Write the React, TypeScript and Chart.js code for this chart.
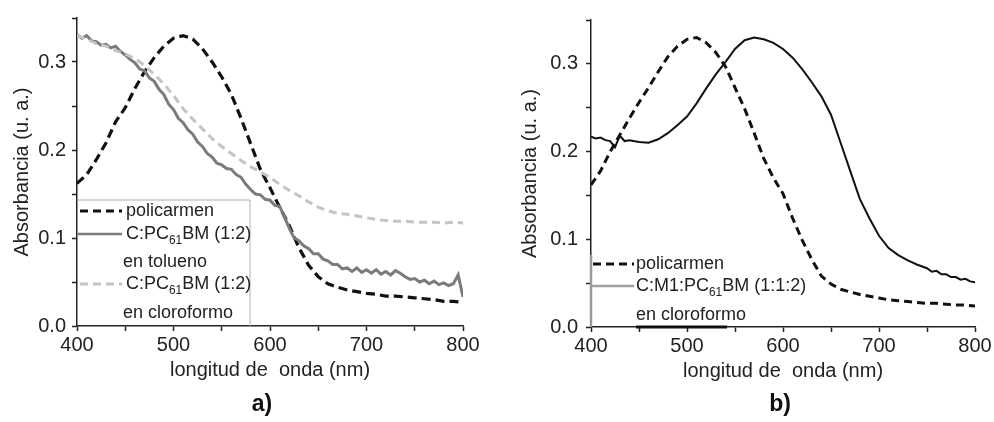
import React, { useEffect, useRef } from 'react';
import { Chart, registerables } from 'chart.js';

Chart.register(...registerables);

const FONT = '"Liberation Sans", Arial, Helvetica, sans-serif';

// ---------------- data ----------------
const wavelengths10 = [
  400, 410, 420, 430, 440, 450, 460, 470, 480, 490, 500, 510, 520, 530, 540, 550, 560, 570, 580, 590,
  600, 610, 620, 630, 640, 650, 660, 670, 680, 690, 700, 710, 720, 730, 740, 750, 760, 770, 780, 790, 800,
];
const wavelengths5 = [
  400, 405, 410, 415, 420, 425, 430, 435, 440, 445, 450, 455, 460, 465, 470, 475, 480, 485, 490, 495,
  500, 505, 510, 515, 520, 525, 530, 535, 540, 545, 550, 555, 560, 565, 570, 575, 580, 585, 590, 595,
  600, 605, 610, 615, 620, 625, 630, 635, 640, 645, 650, 655, 660, 665, 670, 675, 680, 685, 690, 695,
  700, 705, 710, 715, 720, 725, 730, 735, 740, 745, 750, 755, 760, 765, 770, 775, 780, 785, 790, 795, 800,
];

// panel a)
const policarmenA = [
  0.162, 0.172, 0.189, 0.208, 0.232, 0.248, 0.270, 0.289, 0.305, 0.318, 0.327, 0.330, 0.326, 0.315, 0.300,
  0.283, 0.263, 0.236, 0.207, 0.178, 0.157, 0.135, 0.114, 0.089, 0.069, 0.056, 0.048, 0.044, 0.041, 0.039,
  0.037, 0.036, 0.034, 0.034, 0.033, 0.032, 0.031, 0.030, 0.028, 0.028, 0.027,
];
const toluenoA = [
  0.331, 0.327, 0.330, 0.324, 0.323, 0.319, 0.320, 0.316, 0.318, 0.312, 0.308, 0.303, 0.299, 0.292, 0.290,
  0.282, 0.278, 0.269, 0.263, 0.252, 0.246, 0.236, 0.231, 0.223, 0.218, 0.209, 0.204, 0.196, 0.192, 0.185,
  0.183, 0.179, 0.178, 0.172, 0.169, 0.161, 0.155, 0.150, 0.149, 0.144, 0.143, 0.137, 0.136, 0.124, 0.111,
  0.100, 0.097, 0.091, 0.088, 0.082, 0.082, 0.076, 0.074, 0.070, 0.070, 0.065, 0.066, 0.062, 0.066, 0.061,
  0.064, 0.060, 0.064, 0.059, 0.062, 0.058, 0.063, 0.060, 0.056, 0.053, 0.054, 0.050, 0.052, 0.048, 0.051,
  0.047, 0.049, 0.046, 0.048, 0.058, 0.033,
];
const cloroformoA = [
  0.330, 0.326, 0.321, 0.318, 0.313, 0.309, 0.304, 0.296, 0.286, 0.275, 0.262, 0.247, 0.235, 0.224, 0.213,
  0.204, 0.196, 0.188, 0.181, 0.175, 0.169, 0.161, 0.154, 0.148, 0.141, 0.135, 0.131, 0.128, 0.127, 0.125,
  0.123, 0.121, 0.120, 0.119, 0.119, 0.118, 0.118, 0.118, 0.117, 0.118, 0.117,
];

// panel b)
const policarmenB = [
  0.162, 0.178, 0.200, 0.219, 0.238, 0.256, 0.273, 0.291, 0.308, 0.320, 0.328, 0.330, 0.324, 0.313, 0.297,
  0.273, 0.249, 0.221, 0.192, 0.170, 0.152, 0.124, 0.099, 0.077, 0.058, 0.049, 0.043, 0.040, 0.037, 0.035,
  0.033, 0.031, 0.030, 0.029, 0.028, 0.027, 0.027, 0.026, 0.025, 0.025, 0.024,
];
const wavelengthsMezclaB = [
  400, 405, 410, 415, 420, 425, 430, 435, 440, 450, 460, 470, 480, 490, 500, 510, 520, 530, 540, 550,
  560, 570, 580, 590, 600, 610, 620, 630, 640, 650, 660, 670, 680, 690, 700, 710, 720, 730, 740, 750,
  755, 760, 765, 770, 775, 780, 785, 790, 795, 800,
];
const mezclaB = [
  0.217, 0.215, 0.216, 0.213, 0.212, 0.205, 0.218, 0.212, 0.213, 0.211, 0.210, 0.214, 0.221, 0.230, 0.240,
  0.255, 0.272, 0.288, 0.302, 0.317, 0.327, 0.330, 0.328, 0.324, 0.317, 0.307, 0.294, 0.279, 0.263, 0.242,
  0.210, 0.178, 0.146, 0.124, 0.104, 0.090, 0.082, 0.076, 0.071, 0.067, 0.063, 0.064, 0.060, 0.060, 0.057,
  0.057, 0.054, 0.055, 0.052, 0.051,
];

const xTickValues = [400, 500, 600, 700, 800];
const xTickLabels = ['400', '500', '600', '700', '800'];
const yTickValues = [0.0, 0.1, 0.2, 0.3];
const yTickLabels = ['0.0', '0.1', '0.2', '0.3'];

const xTitle = 'longitud de  onda (nm)';
const yTitle = 'Absorbancia (u. a.)';
const panelLabels = ['a)', 'b)'];

const legendLabelsA = ['policarmen', 'C:PC_{61}BM (1:2)', 'en tolueno', 'C:PC_{61}BM (1:2)', 'en cloroformo'];
const legendLabelsB = ['policarmen', 'C:M1:PC_{61}BM (1:1:2)', 'en cloroformo'];

// ---------------- helpers ----------------
const toPoints = (xs: number[], ys: number[]) => xs.map((x, i) => ({ x, y: ys[i] }));

const xLabel = (v: any) => {
  const i = xTickValues.findIndex((t) => Math.abs(t - Number(v)) < 1e-6);
  return i >= 0 ? xTickLabels[i] : '';
};
const yLabel = (v: any) => {
  const i = yTickValues.findIndex((t) => Math.abs(t - Number(v)) < 1e-6);
  return i >= 0 ? yTickLabels[i] : '';
};

function drawRich(ctx: CanvasRenderingContext2D, label: string, x: number, y: number, size: number) {
  const parts = label.split(/(_\{[^}]*\})/).filter((p) => p.length);
  let cx = x;
  for (const p of parts) {
    const sub = p.startsWith('_{');
    const text = sub ? p.slice(2, -1) : p;
    const s = sub ? size * 0.66 : size;
    ctx.font = `${s}px ${FONT}`;
    ctx.fillText(text, cx, sub ? y + size * 0.36 : y);
    cx += ctx.measureText(text).width;
  }
}

function sample(ctx: CanvasRenderingContext2D, x0: number, x1: number, y: number, color: string, width: number, dash: number[]) {
  ctx.save();
  ctx.strokeStyle = color;
  ctx.lineWidth = width;
  ctx.setLineDash(dash);
  ctx.beginPath();
  ctx.moveTo(x0, y);
  ctx.lineTo(x1, y);
  ctx.stroke();
  ctx.restore();
}

const COLORS = {
  black: '#111111',
  tolueno: '#7b7b7b',
  cloroformo: '#c4c4c4',
  legendGray: '#a0a0a0',
  text: '#222222',
};

const decorA = {
  id: 'decorA',
  afterDraw(chart: any) {
    const { ctx, chartArea } = chart;
    const L = chartArea.left;
    const B = chartArea.bottom;
    ctx.save();
    // legend frame (top and right edges)
    ctx.strokeStyle = '#b0b0b0';
    ctx.lineWidth = 1;
    ctx.beginPath();
    ctx.moveTo(L, B - 126);
    ctx.lineTo(L + 173, B - 126);
    ctx.lineTo(L + 173, B);
    ctx.stroke();
    sample(ctx, L + 3, L + 45, B - 115, COLORS.black, 3, [8, 5]);
    sample(ctx, L + 1, L + 45, B - 92, COLORS.tolueno, 2.5, []);
    sample(ctx, L + 3, L + 45, B - 42, COLORS.cloroformo, 3, [8, 5]);
    ctx.fillStyle = COLORS.text;
    ctx.textBaseline = 'middle';
    ctx.textAlign = 'left';
    drawRich(ctx, legendLabelsA[0], L + 49, B - 115, 18);
    drawRich(ctx, legendLabelsA[1], L + 49, B - 92, 18);
    drawRich(ctx, legendLabelsA[2], L + 46, B - 64, 18);
    drawRich(ctx, legendLabelsA[3], L + 49, B - 42, 18);
    drawRich(ctx, legendLabelsA[4], L + 46, B - 13, 18);
    ctx.font = `bold 23px ${FONT}`;
    ctx.textAlign = 'center';
    ctx.fillStyle = '#111';
    ctx.fillText(panelLabels[0], L + 185, chart.height - 17);
    ctx.restore();
  },
};

const decorB = {
  id: 'decorB',
  afterDraw(chart: any) {
    const { ctx, chartArea } = chart;
    const L = chartArea.left;
    const B = chartArea.bottom;
    ctx.save();
    sample(ctx, L, L, B, '#999', 1, []);
    ctx.strokeStyle = '#9a9a9a';
    ctx.lineWidth = 2.5;
    ctx.beginPath();
    ctx.moveTo(L, B - 72);
    ctx.lineTo(L, B);
    ctx.stroke();
    sample(ctx, L + 45, L + 136, B, '#111', 3, []);
    sample(ctx, L + 2, L + 43, B - 63, COLORS.black, 3, [8, 5]);
    sample(ctx, L + 1, L + 43, B - 41, COLORS.legendGray, 2.5, []);
    ctx.fillStyle = COLORS.text;
    ctx.textBaseline = 'middle';
    ctx.textAlign = 'left';
    drawRich(ctx, legendLabelsB[0], L + 45, B - 63, 18);
    drawRich(ctx, legendLabelsB[1], L + 45, B - 41, 18);
    drawRich(ctx, legendLabelsB[2], L + 45, B - 12, 18);
    ctx.font = `bold 23px ${FONT}`;
    ctx.textAlign = 'center';
    ctx.fillStyle = '#111';
    ctx.fillText(panelLabels[1], L + 189, chart.height - 17);
    ctx.restore();
  },
};

function makeScales(yAxisWidth: number, yTitlePad: number, yTickPad: number) {
  const grid = {
    display: true,
    drawOnChartArea: false,
    drawTicks: true,
    tickLength: 5,
    tickColor: '#222',
    tickWidth: 1.5,
  };
  const border = { display: true, color: '#222', width: 1.5 };
  const font = { family: FONT, size: 20 };
  return {
    x: {
      type: 'linear',
      min: 400,
      max: 800,
      afterFit: (s: any) => {
        s.height = 56;
      },
      ticks: { stepSize: 50, autoSkip: false, maxRotation: 0, padding: 2, color: COLORS.text, font, callback: xLabel },
      grid,
      border,
      title: { display: true, text: xTitle, color: COLORS.text, font, padding: { top: 0, bottom: 0 } },
    },
    y: {
      type: 'linear',
      min: 0,
      max: 0.35,
      afterFit: (s: any) => {
        s.width = yAxisWidth;
      },
      ticks: { stepSize: 0.05, autoSkip: false, padding: yTickPad, color: COLORS.text, font, callback: yLabel },
      grid,
      border,
      title: { display: true, text: yTitle, color: COLORS.text, font, padding: { top: yTitlePad, bottom: 0 } },
    },
  };
}

const lineDefaults = { pointRadius: 0, tension: 0, fill: false };

function Panel({ which, width, left }: { which: 'a' | 'b'; width: number; left: number }) {
  const ref = useRef<HTMLCanvasElement | null>(null);
  useEffect(() => {
    if (!ref.current) return;
    const datasets =
      which === 'a'
        ? [
            { ...lineDefaults, label: 'C:PC61BM (1:2) en cloroformo', data: toPoints(wavelengths10, cloroformoA), borderColor: COLORS.cloroformo, borderWidth: 3, borderDash: [8, 5] },
            { ...lineDefaults, label: 'C:PC61BM (1:2) en tolueno', data: toPoints(wavelengths5, toluenoA), borderColor: COLORS.tolueno, borderWidth: 3 },
            { ...lineDefaults, label: 'policarmen', data: toPoints(wavelengths10, policarmenA), borderColor: COLORS.black, borderWidth: 3.2, borderDash: [9, 5] },
          ]
        : [
            { ...lineDefaults, label: 'C:M1:PC61BM (1:1:2) en cloroformo', data: toPoints(wavelengthsMezclaB, mezclaB), borderColor: COLORS.black, borderWidth: 2 },
            { ...lineDefaults, label: 'policarmen', data: toPoints(wavelengths10, policarmenB), borderColor: COLORS.black, borderWidth: 3, borderDash: [8, 5] },
          ];
    const chart = new Chart(ref.current, {
      type: 'line',
      data: { datasets } as any,
      options: {
        animation: false,
        responsive: false,
        maintainAspectRatio: false,
        layout:
          which === 'a'
            ? { padding: { left: 0, top: 15, right: 27, bottom: 40 } }
            : { padding: { left: 0, top: 16, right: 19, bottom: 39 } },
        plugins: { legend: { display: false }, tooltip: { enabled: false }, title: { display: false } },
        scales: (which === 'a' ? makeScales(77, 10, 6) : makeScales(94, 21, 8)) as any,
      },
      plugins: [which === 'a' ? decorA : decorB],
    });
    return () => chart.destroy();
  }, [which]);
  return (
    <div style={{ position: 'absolute', left, top: 0, width, height: 422 }}>
      <canvas ref={ref} width={width} height={422} style={{ display: 'block' }} />
    </div>
  );
}

export default function App() {
  return (
    <div style={{ position: 'fixed', left: 0, top: 0, width: 994, height: 422, background: '#fff', overflow: 'hidden' }}>
      <Panel which="a" width={490} left={0} />
      <Panel which="b" width={497} left={497} />
    </div>
  );
}
